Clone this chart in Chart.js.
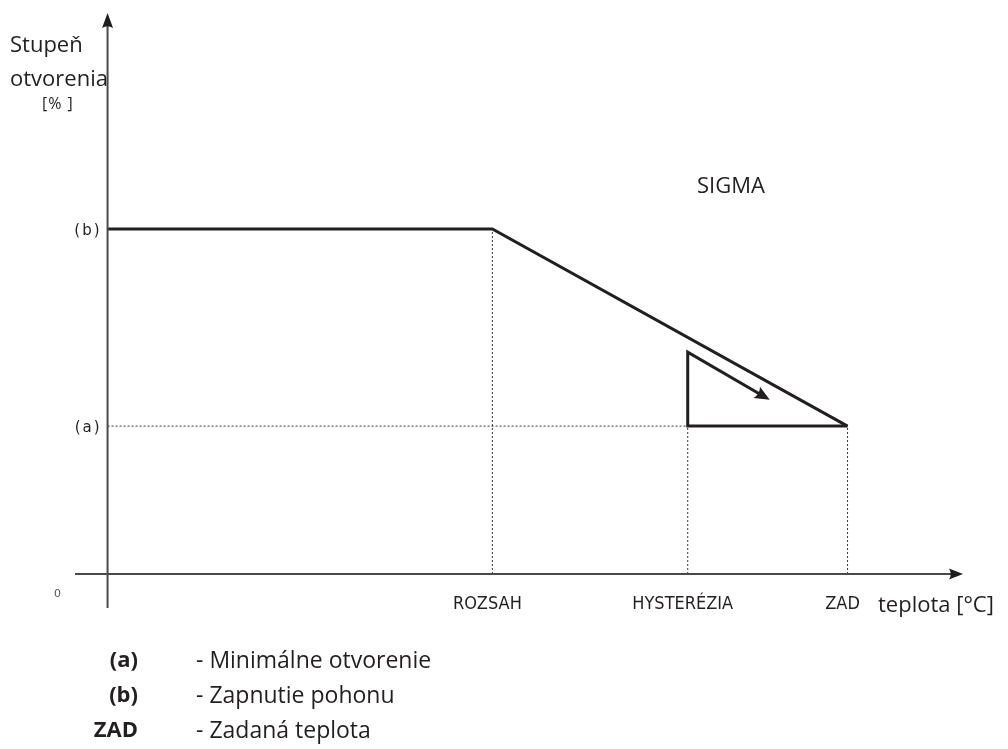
<!DOCTYPE html>
<html>
<head>
<meta charset="utf-8">
<script src="https://cdn.jsdelivr.net/npm/chart.js@4.4.1/dist/chart.umd.min.js"></script>
<style>
  html, body { margin: 0; padding: 0; background: #ffffff; }
  #wrap { width: 1008px; height: 749px; position: relative; }
</style>
</head>
<body>
<div id="wrap"><canvas id="c" width="1008" height="749"></canvas></div>
<script>
// ---- data (schematic units) ----
const xTickValues = [26, 39.2, 50];
const xTickLabels = ['ROZSAH', 'HYSTERÉZIA', 'ZAD'];
const yTickValues = [30, 70];
const yTickLabels = ['(a)', '(b)'];

const mainX = [0, 26, 50];
const mainY = [70, 70, 30];

const triangleX = [50, 39.2, 39.2, 44.47];
const triangleY = [30, 30, 45, 35.8];

const dottedX = [26, 26, null, 0, 39.2, null, 39.2, 39.2, null, 50, 50];
const dottedY = [0, 70, null, 30, 30, null, 0, 30, null, 0, 30];

const xAxisX = [-2.2, 57.5];
const xAxisY = [0, 0];
const yAxisX = [0, 0];
const yAxisY = [-6.9, 112];

const legendKeys = ['(a)', '(b)', 'ZAD'];
const legendTexts = ['- Minimálne otvorenie', '- Zapnutie pohonu', '- Zadaná teplota'];

const zip = (xs, ys) => xs.map((x, i) => ({ x: x, y: ys[i] }));

const INK = '#231f20';
const AXIS = '#4a4a4a';

const annotations = {
  id: 'annotations',
  afterDatasetsDraw(chart) {
    const ctx = chart.ctx;
    const xs = chart.scales.x, ys = chart.scales.y;
    const px = v => xs.getPixelForValue(v);
    const py = v => ys.getPixelForValue(v);

    function arrowHead(tx, ty, fx, fy, len, half, color) {
      const ang = Math.atan2(ty - fy, tx - fx);
      ctx.save();
      ctx.translate(tx, ty);
      ctx.rotate(ang);
      ctx.beginPath();
      ctx.moveTo(0, 0);
      ctx.lineTo(-len, -half);
      ctx.quadraticCurveTo(-len * 0.75, 0, -len, half);
      ctx.closePath();
      ctx.fillStyle = color;
      ctx.fill();
      ctx.restore();
    }
    // axis arrowheads
    arrowHead(px(yAxisX[1]), chart.chartArea.top, px(yAxisX[0]), py(yAxisY[0]), 15, 5.5, '#1e1e1e');
    arrowHead(chart.chartArea.right, py(xAxisY[1]), px(xAxisX[0]), py(xAxisY[0]), 14, 5.5, '#1e1e1e');
    // triangle arrow
    const n = triangleX.length;
    arrowHead(px(triangleX[n - 1]) + 4, py(triangleY[n - 1]) + 2.3,
              px(triangleX[n - 2]), py(triangleY[n - 2]), 15, 6.5, INK);

    ctx.save();
    ctx.fillStyle = INK;
    ctx.textBaseline = 'middle';
    // x tick labels
    ctx.font = '18px "Liberation Sans Narrow", "DejaVu Sans Condensed", sans-serif';
    ctx.textAlign = 'center';
    xTickValues.forEach((v, i) => ctx.fillText(xTickLabels[i], px(v) - 5, py(0) + 30));
    // y tick labels
    ctx.font = '15px "DejaVu Sans", sans-serif';
    ctx.textAlign = 'right';
    if ('letterSpacing' in ctx) ctx.letterSpacing = '2px';
    yTickValues.forEach((v, i) => ctx.fillText(yTickLabels[i], px(0) - 6, py(v) + 2));
    if ('letterSpacing' in ctx) ctx.letterSpacing = '0px';
    // origin
    ctx.fillStyle = '#555';
    ctx.font = '11px "DejaVu Sans", sans-serif';
    ctx.textAlign = 'center';
    ctx.fillText('0', px(0) - 50, py(0) + 20);
    ctx.fillStyle = INK;
    // axis titles
    ctx.font = '22px "Open Sans", sans-serif';
    ctx.textAlign = 'left';
    ctx.fillText('Stupeň', 10, 46);
    ctx.fillText('otvorenia', 10, 80);
    ctx.font = '16px "Open Sans", sans-serif';
    if ('letterSpacing' in ctx) ctx.letterSpacing = '1px';
    ctx.fillText('[% ]', 42, 104);
    if ('letterSpacing' in ctx) ctx.letterSpacing = '0px';
    ctx.font = '22px "Open Sans", sans-serif';
    ctx.fillText('teplota [°C]', 878, py(0) + 32);
    // SIGMA
    ctx.font = '22px "Open Sans", sans-serif';
    ctx.fillText('SIGMA', 697, 187);
    // legend
    const ly = [661, 696, 731];
    legendKeys.forEach((k, i) => {
      ctx.font = 'bold 22px "Open Sans", sans-serif';
      ctx.textAlign = 'right';
      ctx.fillText(k, 138, ly[i]);
      ctx.font = '23px "Open Sans", sans-serif';
      ctx.textAlign = 'left';
      ctx.fillText(legendTexts[i], 196, ly[i]);
    });
    ctx.restore();
  }
};

new Chart(document.getElementById('c'), {
  type: 'line',
  data: {
    datasets: [
      { data: zip(xAxisX, xAxisY), borderColor: AXIS, borderWidth: 2, pointRadius: 0 },
      { data: zip(yAxisX, yAxisY), borderColor: AXIS, borderWidth: 2, pointRadius: 0 },
      { data: zip(dottedX, dottedY), borderColor: '#333', borderWidth: 1, borderDash: [2, 2], pointRadius: 0, spanGaps: false },
      { data: zip(mainX, mainY), borderColor: INK, borderWidth: 3, pointRadius: 0 },
      { data: zip(triangleX, triangleY), borderColor: INK, borderWidth: 3, pointRadius: 0, borderJoinStyle: 'miter' }
    ]
  },
  options: {
    responsive: false,
    animation: false,
    devicePixelRatio: 1,
    layout: { padding: { left: 75, right: 45, top: 13, bottom: 141 } },
    plugins: { legend: { display: false }, tooltip: { enabled: false } },
    elements: { line: { tension: 0, fill: false } },
    scales: {
      x: { type: 'linear', min: -2.2, max: 57.8, display: false },
      y: { type: 'linear', min: -6.9, max: 113.8, display: false }
    }
  },
  plugins: [annotations]
});
</script>
</body>
</html>
